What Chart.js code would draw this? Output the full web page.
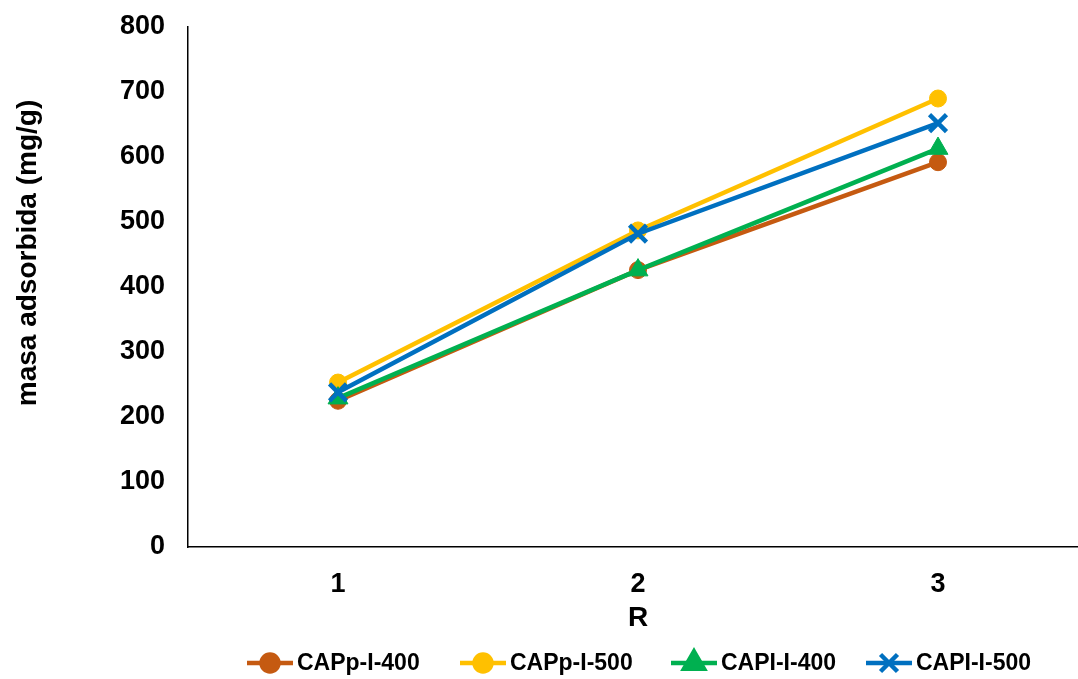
<!DOCTYPE html>
<html>
<head>
<meta charset="utf-8">
<script src="https://cdn.jsdelivr.net/npm/chart.js@4/dist/chart.umd.min.js"></script>
<style>
  html, body { margin: 0; padding: 0; background: #fff; overflow: hidden; }
  #wrap { width: 1078px; height: 679px; position: relative; }
  canvas { display: block; }
</style>
</head>
<body>
<div id="wrap"><canvas id="adsChart" width="1078" height="679"></canvas></div>
<script>
const categories = [1, 2, 3];
const seriesNames = ['CAPp-I-400', 'CAPp-I-500', 'CAPI-I-400', 'CAPI-I-500'];
const capp400 = [225, 426, 592];
const capp500 = [253, 487, 690];
const capi400 = [229, 426, 613];
const capi500 = [238, 482, 652];
const yTicks = [0, 100, 200, 300, 400, 500, 600, 700, 800];

const colors = ['#C55A11', '#FFC000', '#00B050', '#0070C0'];
const markers = ['circle', 'circle', 'triangle', 'crossRot'];
const markerSize = { circle: 8.5, triangle: 11.5, crossRot: 12 };
const legendX = [247, 460, 671, 866];
const FONT = '"Liberation Sans", Arial, sans-serif';

function toPoints(values) {
  return values.map((v, i) => ({ x: categories[i], y: v }));
}

const allValues = [capp400, capp500, capi400, capi500];

// blue on top, then green, yellow, orange underneath
const drawOrder = [3, 2, 1, 0];

const datasets = allValues.map((vals, i) => ({
  label: seriesNames[i],
  data: toPoints(vals),
  borderColor: colors[i],
  backgroundColor: colors[i],
  borderWidth: 4.5,
  pointStyle: markers[i],
  pointRadius: markerSize[markers[i]],
  pointBorderWidth: markers[i] === 'crossRot' ? 4.5 : 1,
  pointBorderColor: colors[i],
  pointBackgroundColor: colors[i],
  tension: 0,
  order: drawOrder[i]
}));

// stretch the plot area to the right edge of the canvas
const fullWidth = {
  id: 'fullWidth',
  afterLayout(chart) {
    const a = chart.chartArea;
    const sx = chart.scales.x;
    a.right = chart.width;
    a.width = a.right - a.left;
    sx.right = chart.width;
    sx.width = sx.right - sx.left;
    sx.configure();
  }
};

// axis titles and the line+marker legend
const extras = {
  id: 'extras',
  afterDraw(chart) {
    const ctx = chart.ctx;
    ctx.save();
    ctx.fillStyle = '#000';
    ctx.font = 'bold 28px ' + FONT;
    ctx.textAlign = 'center';
    ctx.textBaseline = 'middle';
    ctx.fillText('R', 638, 618);

    ctx.save();
    ctx.translate(28, 253);
    ctx.rotate(-Math.PI / 2);
    ctx.fillText('masa adsorbida (mg/g)', 0, 0);
    ctx.restore();

    ctx.font = 'bold 23px ' + FONT;
    ctx.textAlign = 'left';
    const y = 663;
    seriesNames.forEach((name, i) => {
      const x = legendX[i];
      ctx.strokeStyle = colors[i];
      ctx.fillStyle = colors[i];
      ctx.lineWidth = 4.5;
      ctx.beginPath();
      ctx.moveTo(x, y);
      ctx.lineTo(x + 46, y);
      ctx.stroke();
      const ds = chart.data.datasets[i];
      Chart.helpers.drawPoint(ctx, {
        pointStyle: ds.pointStyle,
        radius: ds.pointRadius,
        borderWidth: ds.pointBorderWidth,
        rotation: 0
      }, x + 23, y);
      ctx.fillStyle = '#000';
      ctx.fillText(name, x + 50, y + 1);
    });
    ctx.restore();
  }
};

new Chart(document.getElementById('adsChart'), {
  type: 'line',
  data: { datasets: datasets },
  options: {
    responsive: false,
    animation: false,
    layout: { padding: { top: 27, right: 0, left: 0, bottom: 0 } },
    plugins: {
      legend: { display: false },
      tooltip: { enabled: false }
    },
    scales: {
      x: {
        type: 'linear',
        min: 0.5,
        max: 0.5 + 890 / 300,
        afterBuildTicks(scale) {
          scale.ticks = categories.map(v => ({ value: v }));
        },
        afterFit(scale) {
          scale.height = 132;
          scale.paddingLeft = 0;
          scale.paddingRight = 0;
        },
        grid: { display: false, drawTicks: false },
        border: { display: true, color: '#000', width: 1.5 },
        ticks: {
          color: '#000',
          padding: 21,
          maxRotation: 0,
          font: { family: FONT, size: 27, weight: 'bold' },
          callback: v => String(v)
        }
      },
      y: {
        min: 0,
        max: 800,
        afterBuildTicks(scale) {
          scale.ticks = yTicks.map(v => ({ value: v }));
        },
        afterFit(scale) {
          scale.width = 188;
          scale.paddingTop = 0;
          scale.paddingBottom = 0;
        },
        grid: { display: false, drawTicks: false },
        border: { display: true, color: '#000', width: 1.5 },
        ticks: {
          color: '#000',
          padding: 23,
          font: { family: FONT, size: 27, weight: 'bold' }
        }
      }
    }
  },
  plugins: [fullWidth, extras]
});
</script>
</body>
</html>
